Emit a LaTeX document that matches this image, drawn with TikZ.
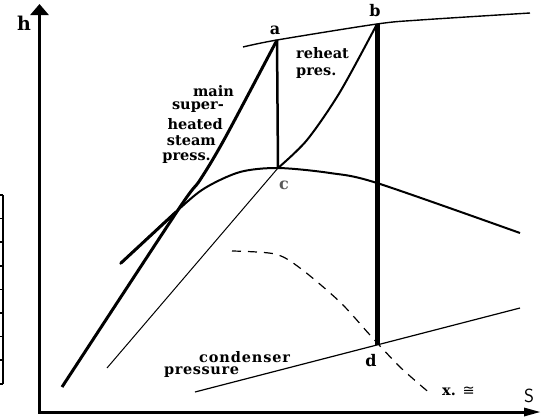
\documentclass[tikz,border=0pt]{standalone}
\usepackage{fontspec}
\setmainfont{DejaVu Serif}
\newfontfamily\symfont{DejaVu Sans}
\usetikzlibrary{arrows.meta}
\begin{document}
\begin{tikzpicture}[x=1pt,y=-1pt,
  axis/.style={line width=3pt},
  lbl/.style={font=\bfseries\fontsize{14.5}{16}\selectfont, inner sep=0pt},
  ptlbl/.style={font=\bfseries\fontsize{16}{18}\selectfont, inner sep=0pt},
  thinline/.style={line width=1.2pt},
  wet/.style={line width=1.2pt, dash pattern=on 9pt off 7pt},
  tick/.style={line width=1.5pt}]
\useasboundingbox (0,0) rectangle (549,416);
% key points
\coordinate (a) at (277,40);
\coordinate (b) at (377,24);
\coordinate (c) at (278,168);
\coordinate (d) at (377,345);
\coordinate (o) at (39.5,412);
\coordinate (ytop) at (39.5,4);
\coordinate (xend) at (541,412);
\coordinate (e) at (107,368);
\coordinate (cp0) at (195,392);
\coordinate (cp1) at (520,308);
% left tick strip
\coordinate (t0) at (3,195);
\coordinate (t1) at (3,384);
\draw[tick] (t0) -- (t1);
\foreach \k in {0,...,8}{
  \draw[tick] (0,195+23.6*\k) -- (3,195+23.6*\k);
}
% axes
\draw[axis, arrows={Triangle[length=11pt,width=18pt]-Triangle[length=17pt,width=8pt]}] (ytop) -- (o) -- (xend);
\node[font=\bfseries\fontsize{19}{21}\selectfont, inner sep=0pt] (hl) at (24,23) {h};
\node[font=\sffamily\fontsize{19}{21}\selectfont, inner sep=0pt] (sl) at (529,396) {S};
% top line
\draw[line width=1.4pt] plot[smooth] coordinates {(243,47) (a) (b) (420,20) (530,13)};
% saturation dome
\draw[line width=2pt] plot[smooth] coordinates {(120,264) (178,210) (205,188) (240,172) (c) (330,173) (377,183) (520,233)};
\draw[line width=3pt, line cap=round] (121,263) -- (176,212);
% main pressure line
\draw[line width=3pt] plot[smooth, tension=0.5] coordinates {(62,387) (178,210) (200,180) (225,138) (a)};
% verticals
\draw[line width=2.5pt] (a) -- (c);
\draw[line width=5pt] (b) -- (d);
% reheat line
\draw[line width=2pt] plot[smooth] coordinates {(c) (307,140) (340,92) (b)};
% thin line from c
\draw[line width=1pt] (c) -- (e);
% condenser line
\draw[thinline] (cp0) -- (cp1);
% quality line
\draw[wet] plot[smooth] coordinates {(232,251) (275,254) (300,268) (340,302) (370,335) (400,367) (432,395)};
% labels
\node[ptlbl] (al) at (275,30) {a};
\node[ptlbl] (bl) at (375,11) {b};
\node[ptlbl, text=black!65] (cl) at (284,185) {c};
\node[ptlbl] (dl) at (371,361) {d};
\node[lbl, anchor=east] (m1) at (234,91) {main};
\node[lbl, anchor=east] (m2) at (224,107) {super-};
\node[lbl, anchor=east] (m3) at (223,124) {heated};
\node[lbl, anchor=east] (m4) at (216,141) {steam};
\node[lbl, anchor=east] (m5) at (211,158) {press.};
\node[lbl, anchor=west] (r1) at (296,53) {reheat};
\node[lbl, anchor=west] (r2) at (296,73) {pres.};
\node[lbl, anchor=west, font=\bfseries\fontsize{14.5}{16}\selectfont\addfontfeature{LetterSpace=6}] (c1) at (199,357) {condenser};
\node[lbl, anchor=west, font=\bfseries\fontsize{14.5}{16}\selectfont\addfontfeature{LetterSpace=4}] (c2) at (164,372) {pressure};
\node[lbl, anchor=west] (xl) at (442,391) {x. {\symfont\mdseries ≅}};
\end{tikzpicture}
\end{document}
